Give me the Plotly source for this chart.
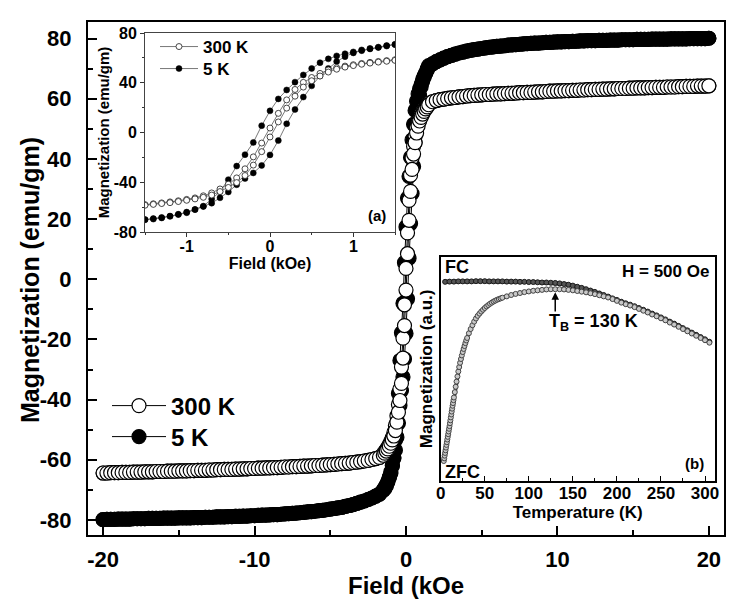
import plotly.graph_objects as go

# ---------------- data: main M-H loops ----------------
H_HIGH_POS = [1.75, 2.0, 2.25, 2.5, 2.75, 3.0, 3.25, 3.5, 3.75, 4.0,
              4.25, 4.5, 4.75, 5.0, 5.25, 5.5, 5.75, 6.0, 6.25, 6.5,
              6.75, 7.0, 7.25, 7.5, 7.75, 8.0, 8.25, 8.5, 8.75, 9.0,
              9.25, 9.5, 9.75, 10.0, 10.25, 10.5, 10.75, 11.0, 11.25, 11.5,
              11.75, 12.0, 12.25, 12.5, 12.75, 13.0, 13.25, 13.5, 13.75, 14.0,
              14.25, 14.5, 14.75, 15.0, 15.25, 15.5, 15.75, 16.0, 16.25, 16.5,
              16.75, 17.0, 17.25, 17.5, 17.75, 18.0, 18.25, 18.5, 18.75, 19.0,
              19.25, 19.5, 19.75, 20.0]
H_HIGH_NEG = [-1.75, -2.0, -2.25, -2.5, -2.75, -3.0, -3.25, -3.5, -3.75, -4.0,
              -4.25, -4.5, -4.75, -5.0, -5.25, -5.5, -5.75, -6.0, -6.25, -6.5,
              -6.75, -7.0, -7.25, -7.5, -7.75, -8.0, -8.25, -8.5, -8.75, -9.0,
              -9.25, -9.5, -9.75, -10.0, -10.25, -10.5, -10.75, -11.0, -11.25, -11.5,
              -11.75, -12.0, -12.25, -12.5, -12.75, -13.0, -13.25, -13.5, -13.75, -14.0,
              -14.25, -14.5, -14.75, -15.0, -15.25, -15.5, -15.75, -16.0, -16.25, -16.5,
              -16.75, -17.0, -17.25, -17.5, -17.75, -18.0, -18.25, -18.5, -18.75, -19.0,
              -19.25, -19.5, -19.75, -20.0]
H_LOW = [-1.5, -1.4, -1.3, -1.2, -1.1, -1.0, -0.9, -0.8, -0.7, -0.6, -0.5,
         -0.4, -0.3, -0.2, -0.1, 0.0, 0.1, 0.2, 0.3, 0.4, 0.5,
         0.6, 0.7, 0.8, 0.9, 1.0, 1.1, 1.2, 1.3, 1.4, 1.5]

M300_HIGH_POS = [59.0, 59.4, 59.7, 59.9, 60.1, 60.3, 60.4, 60.6, 60.7, 60.9,
                 61.0, 61.1, 61.2, 61.3, 61.4, 61.4, 61.5, 61.6, 61.6, 61.7,
                 61.8, 61.8, 61.9, 62.0, 62.0, 62.1, 62.1, 62.2, 62.3, 62.3,
                 62.4, 62.5, 62.5, 62.6, 62.6, 62.7, 62.7, 62.8, 62.8, 62.9,
                 62.9, 63.0, 63.0, 63.1, 63.1, 63.2, 63.2, 63.3, 63.3, 63.4,
                 63.4, 63.4, 63.5, 63.5, 63.6, 63.6, 63.6, 63.7, 63.7, 63.8,
                 63.8, 63.8, 63.9, 63.9, 63.9, 64.0, 64.0, 64.1, 64.1, 64.1,
                 64.2, 64.2, 64.2, 64.3]
M300_HIGH_NEG = [-59.2, -59.6, -59.9, -60.2, -60.4, -60.6, -60.8, -60.9, -61.1, -61.2,
                 -61.3, -61.4, -61.5, -61.6, -61.7, -61.8, -61.9, -61.9, -62.0, -62.1,
                 -62.1, -62.2, -62.3, -62.3, -62.4, -62.4, -62.5, -62.6, -62.6, -62.7,
                 -62.7, -62.8, -62.8, -62.9, -62.9, -63.0, -63.0, -63.1, -63.1, -63.2,
                 -63.2, -63.2, -63.3, -63.3, -63.4, -63.4, -63.5, -63.5, -63.5, -63.6,
                 -63.6, -63.7, -63.7, -63.7, -63.8, -63.8, -63.8, -63.9, -63.9, -63.9,
                 -64.0, -64.0, -64.0, -64.1, -64.1, -64.1, -64.2, -64.2, -64.2, -64.3,
                 -64.3, -64.3, -64.4, -64.4]
M300_LOW_DESC = [-58.0, -57.3, -56.6, -55.8, -54.9, -53.8, -52.6, -50.9, -48.6, -45.4, -41.6,
                 -36.5, -29.2, -19.6, -8.5, 3.6, 15.4, 26.2, 34.6, 40.3, 44.2,
                 47.5, 50.3, 52.1, 53.4, 54.5, 55.5, 56.4, 57.1, 57.8, 58.5]
M300_LOW_ASC = [-58.5, -57.8, -57.1, -56.4, -55.5, -54.5, -53.4, -52.1, -50.3, -47.5, -44.2,
                -40.3, -34.6, -26.2, -15.4, -3.6, 8.5, 19.6, 29.2, 36.5, 41.6,
                45.4, 48.6, 50.9, 52.6, 53.8, 54.9, 55.8, 56.6, 57.3, 58.0]

M5_HIGH_POS = [71.6, 72.3, 72.9, 73.5, 74.0, 74.4, 74.8, 75.2, 75.5, 75.8,
               76.1, 76.3, 76.5, 76.7, 76.9, 77.1, 77.2, 77.4, 77.5, 77.6,
               77.8, 77.9, 78.0, 78.1, 78.2, 78.3, 78.4, 78.5, 78.5, 78.6,
               78.7, 78.7, 78.8, 78.9, 78.9, 79.0, 79.0, 79.1, 79.1, 79.2,
               79.2, 79.3, 79.3, 79.3, 79.4, 79.4, 79.4, 79.5, 79.5, 79.5,
               79.6, 79.6, 79.6, 79.6, 79.7, 79.7, 79.7, 79.7, 79.8, 79.8,
               79.8, 79.8, 79.8, 79.9, 79.9, 79.9, 79.9, 79.9, 80.0, 80.0,
               80.0, 80.0, 80.0, 80.1]
M5_HIGH_NEG = [-71.4, -72.1, -72.7, -73.2, -73.7, -74.1, -74.5, -74.9, -75.2, -75.5,
               -75.8, -76.0, -76.2, -76.4, -76.6, -76.8, -76.9, -77.1, -77.2, -77.3,
               -77.5, -77.6, -77.7, -77.8, -77.9, -78.0, -78.1, -78.2, -78.2, -78.3,
               -78.4, -78.4, -78.5, -78.6, -78.6, -78.7, -78.7, -78.8, -78.8, -78.9,
               -78.9, -79.0, -79.0, -79.0, -79.1, -79.1, -79.1, -79.2, -79.2, -79.2,
               -79.3, -79.3, -79.3, -79.3, -79.4, -79.4, -79.4, -79.4, -79.5, -79.5,
               -79.5, -79.5, -79.6, -79.6, -79.6, -79.6, -79.7, -79.7, -79.7, -79.7,
               -79.8, -79.8, -79.8, -79.9]
M5_LOW_DESC = [-70.2, -69.2, -68.3, -67.2, -65.9, -64.0, -61.9, -59.2, -53.5, -47.5, -37.9,
               -27.0, -17.8, -8.0, 5.5, 17.4, 27.0, 34.2, 40.5, 46.3, 51.5,
               56.1, 59.2, 61.6, 63.3, 64.8, 66.4, 67.6, 68.6, 69.9, 71.0]
M5_LOW_ASC = [-70.0, -69.6, -68.7, -67.4, -65.8, -64.5, -62.0, -59.5, -56.8, -52.5, -47.8,
              -42.0, -37.0, -32.5, -26.5, -18.0, -6.5, 7.0, 18.5, 28.5, 37.5,
              45.5, 51.5, 57.0, 61.0, 64.0, 65.8, 67.2, 68.4, 69.5, 70.6]

# ---------------- data: ZFC / FC (inset b) ----------------
FC_T = [5, 10, 15, 20, 25, 30, 35, 40, 45, 50, 55, 60, 65, 70, 75, 80, 85, 90, 95, 100,
        105, 110, 115, 120, 125, 130, 135, 140, 145, 150, 155, 160, 165, 170, 175, 180,
        185, 190, 195, 200, 205, 210, 215, 220, 225, 230, 235, 240, 245, 250, 255, 260,
        265, 270, 275, 280, 285, 290, 295, 300, 305]
FC_M = [0.889, 0.890, 0.890, 0.891, 0.891, 0.891, 0.891, 0.892, 0.892, 0.892,
        0.891, 0.891, 0.891, 0.891, 0.890, 0.890, 0.890, 0.889, 0.889, 0.888,
        0.888, 0.887, 0.886, 0.886, 0.885, 0.884, 0.882, 0.879, 0.876, 0.872,
        0.867, 0.862, 0.856, 0.850, 0.844, 0.837, 0.830, 0.823, 0.815, 0.808,
        0.800, 0.793, 0.787, 0.780, 0.772, 0.764, 0.756, 0.747, 0.739, 0.730,
        0.721, 0.711, 0.702, 0.692, 0.682, 0.672, 0.662, 0.652, 0.642, 0.632,
        0.621]
ZFC_T = [3.5, 4, 4.5, 5, 5.5, 6, 6.5, 7, 7.5, 8, 8.5, 9, 9.5, 10, 10.5, 11, 11.5, 12,
         12.5, 13, 13.5, 14, 14.5, 15,
         16, 17, 18, 19, 20, 21, 22, 23, 24, 25, 26, 27, 28, 29, 30,
         32, 34, 36, 38, 40, 42, 44, 46, 48, 50, 52, 54, 56, 58, 60, 62, 64, 66, 68, 70,
         75, 80, 85, 90, 95, 100, 105, 110, 115, 120, 125, 130, 135, 140, 145, 150, 155,
         160, 165, 170, 175, 180, 185, 190, 195, 200, 205, 210, 215, 220, 225, 230, 235,
         240, 245, 250, 255, 260, 265, 270, 275, 280, 285, 290, 295, 300, 305]
ZFC_M = [0.088, 0.100, 0.112, 0.124, 0.136, 0.148, 0.160, 0.172, 0.184, 0.196, 0.208, 0.220,
         0.232, 0.244, 0.257, 0.270, 0.283, 0.296, 0.309, 0.322, 0.335, 0.347, 0.360, 0.372,
         0.396, 0.420, 0.443, 0.466, 0.488, 0.508, 0.527, 0.544, 0.560, 0.575, 0.589, 0.602,
         0.615, 0.627, 0.638,
         0.659, 0.678, 0.695, 0.711, 0.725, 0.737, 0.747, 0.756, 0.764, 0.772, 0.779, 0.785,
         0.791, 0.796, 0.801, 0.805, 0.809, 0.812, 0.815, 0.818,
         0.824, 0.830, 0.835, 0.839, 0.843, 0.846, 0.849, 0.851, 0.853, 0.855, 0.856, 0.856,
         0.856, 0.855, 0.853, 0.851, 0.848, 0.845, 0.842, 0.838, 0.834, 0.829, 0.824, 0.819,
         0.812, 0.804, 0.796, 0.789, 0.783, 0.776, 0.768, 0.760, 0.752, 0.743, 0.735, 0.726,
         0.717, 0.707, 0.698, 0.688, 0.678, 0.668, 0.658, 0.648, 0.638, 0.628, 0.617]

MAIN_XTICKS = [-20, -10, 0, 10, 20]
MAIN_XLABELS = ["-20", "-10", "0", "10", "20"]
MAIN_YTICKS = [-80, -60, -40, -20, 0, 20, 40, 60, 80]
MAIN_YLABELS = ["-80", "-60", "-40", "-20", "0", "20", "40", "60", "80"]
INSET_A_XTICKS = [-1, 0, 1]
INSET_A_XLABELS = ["-1", "0", "1"]
INSET_A_YTICKS = [-80, -40, 0, 40, 80]
INSET_A_YLABELS = ["-80", "-40", "0", "40", "80"]
INSET_B_XTICKS = [0, 50, 100, 150, 200, 250, 300]
INSET_B_XLABELS = ["0", "50", "100", "150", "200", "250", "300"]


def loop(h_pos, h_neg, h_low, m_pos, m_neg, m_low_desc, m_low_asc):
    """Full hysteresis loop: +20 -> -20 (descending), then -20 -> +20 (ascending)."""
    hx = list(reversed(h_pos)) + list(reversed(h_low)) + list(h_neg)
    my = list(reversed(m_pos)) + list(reversed(m_low_desc)) + list(m_neg)
    hx += list(reversed(h_neg)) + list(h_low) + list(h_pos)
    my += list(reversed(m_neg)) + list(m_low_asc) + list(m_pos)
    return hx, my


H300, M300 = loop(H_HIGH_POS, H_HIGH_NEG, H_LOW, M300_HIGH_POS, M300_HIGH_NEG,
                  M300_LOW_DESC, M300_LOW_ASC)
H5, M5 = loop(H_HIGH_POS, H_HIGH_NEG, H_LOW, M5_HIGH_POS, M5_HIGH_NEG,
              M5_LOW_DESC, M5_LOW_ASC)

FONT = "Liberation Sans, Arial, Helvetica, sans-serif"

# ---------------- geometry ----------------
# The page body has an 8px margin, so the figure is 8px smaller than the window
OFF = 8
W, HGT = 740 - OFF, 606 - OFF
L, R, T, B = 88 - OFF, 16, 22 - OFF, 71
PW, PH = W - L - R, HGT - T - B


def px(x):
    """page pixel x -> paper fraction"""
    return (x - OFF - L) / PW


def py(y):
    """page pixel y -> paper fraction"""
    return (HGT - B - (y - OFF)) / PH


fig = go.Figure()

# main plot
fig.add_trace(go.Scatter(
    x=H5, y=M5, mode="lines+markers", name="5 K", legend="legend3",
    line=dict(color="black", width=1),
    marker=dict(symbol="circle", size=14, color="black", line=dict(color="black", width=1.2)),
    xaxis="x", yaxis="y"))
fig.add_trace(go.Scatter(
    x=H300, y=M300, mode="lines+markers", name="300 K", legend="legend",
    line=dict(color="black", width=1),
    marker=dict(symbol="circle", size=14, color="white", line=dict(color="black", width=1.2)),
    xaxis="x", yaxis="y"))

# inset (a)
fig.add_trace(go.Scatter(
    x=H5, y=M5, mode="lines+markers", name="5 K", legend="legend4",
    line=dict(color="#555555", width=0.8),
    marker=dict(symbol="circle", size=6, color="black", line=dict(color="black", width=0.5)),
    xaxis="x2", yaxis="y2"))
fig.add_trace(go.Scatter(
    x=H300, y=M300, mode="lines+markers", name="300 K", legend="legend2",
    line=dict(color="#555555", width=0.8),
    marker=dict(symbol="circle", size=6, color="white", line=dict(color="#333333", width=0.9)),
    xaxis="x2", yaxis="y2"))

# inset (b)
fig.add_trace(go.Scatter(
    x=FC_T, y=FC_M, mode="lines+markers", showlegend=False,
    line=dict(color="#222222", width=4),
    marker=dict(symbol="circle", size=5, color="#555555", line=dict(color="#1a1a1a", width=1)),
    xaxis="x3", yaxis="y3"))
fig.add_trace(go.Scatter(
    x=ZFC_T, y=ZFC_M, mode="lines+markers", showlegend=False,
    line=dict(color="#333333", width=3),
    marker=dict(symbol="circle", size=5, color="#c8c8c8", line=dict(color="#444444", width=1)),
    xaxis="x3", yaxis="y3"))

bold = dict(family=FONT, color="black", weight="bold")

fig.update_layout(
    width=W, height=HGT,
    margin=dict(l=L, r=R, t=T, b=B, autoexpand=False),
    paper_bgcolor="white", plot_bgcolor="white",
    font=dict(family=FONT, color="black"),
    xaxis=dict(
        domain=[0, 1], anchor="y", range=[-21, 21], automargin=False,
        tickvals=MAIN_XTICKS, ticktext=MAIN_XLABELS,
        ticks="inside", ticklen=9, tickwidth=2, tickcolor="black",
        minor=dict(ticks="inside", ticklen=5, tickwidth=2, dtick=5, tick0=0, tickcolor="black"),
        showline=True, linewidth=2, linecolor="black", mirror=True,
        showgrid=False, zeroline=False,
        tickfont=dict(size=22, **bold), ticklabelstandoff=4,
        title=dict(text="Field (kOe", font=dict(size=24, **bold), standoff=2)),
    yaxis=dict(
        domain=[0, 1], anchor="x", range=[-85, 85.5], automargin=False,
        tickvals=MAIN_YTICKS, ticktext=MAIN_YLABELS,
        ticks="inside", ticklen=9, tickwidth=2, tickcolor="black",
        minor=dict(ticks="inside", ticklen=5, tickwidth=2, dtick=10, tick0=0, tickcolor="black"),
        showline=True, linewidth=2, linecolor="black", mirror=True,
        showgrid=False, zeroline=False,
        tickfont=dict(size=22, **bold), ticklabelstandoff=10),
    xaxis2=dict(
        domain=[px(145), px(395)], anchor="y2", range=[-1.5, 1.5], automargin=False,
        tickvals=INSET_A_XTICKS, ticktext=INSET_A_XLABELS,
        ticks="outside", ticklen=4, tickwidth=1, tickcolor="#333",
        minor=dict(ticks="outside", ticklen=2, dtick=0.5, tick0=0, tickcolor="#333"),
        showline=True, linewidth=1, linecolor="#444", mirror=True,
        showgrid=False, zeroline=False,
        tickfont=dict(size=16, **bold), ticklabelstandoff=-4,
        title=dict(text="Field (kOe)", font=dict(size=16, **bold), standoff=0)),
    yaxis2=dict(
        domain=[py(232), py(33)], anchor="x2", range=[-80, 80], automargin=False,
        tickvals=INSET_A_YTICKS, ticktext=INSET_A_YLABELS,
        ticks="outside", ticklen=4, tickwidth=1, tickcolor="#333",
        minor=dict(ticks="outside", ticklen=2, dtick=20, tick0=0, tickcolor="#333"),
        showline=True, linewidth=1, linecolor="#444", mirror=True,
        showgrid=False, zeroline=False,
        tickfont=dict(size=16, **bold),
        title=dict(text="Magnetization (emu/gm)", font=dict(size=15, **bold), standoff=0)),
    xaxis3=dict(
        domain=[px(440.7), px(714.7)], anchor="y3", range=[0, 311], automargin=False,
        tickvals=INSET_B_XTICKS, ticktext=INSET_B_XLABELS,
        ticks="inside", ticklen=5, tickwidth=1, tickcolor="black",
        minor=dict(ticks="inside", ticklen=3, dtick=25, tick0=0, tickcolor="black"),
        showline=True, linewidth=1.5, linecolor="black", mirror=True,
        showgrid=False, zeroline=False,
        tickfont=dict(size=17, **bold), ticklabelstandoff=-4,
        title=dict(text="Temperature (K)", font=dict(size=17, **bold), standoff=0)),
    yaxis3=dict(
        domain=[py(480.7), py(257)], anchor="x3", range=[0, 1], automargin=False,
        showticklabels=False, ticks="",
        showline=True, linewidth=1.5, linecolor="black", mirror=True,
        showgrid=False, zeroline=False,
        title=dict(text="Magnetization (a.u.)", font=dict(size=17, **bold), standoff=2)),
    legend=dict(
        x=px(107), y=py(406), xanchor="left", yanchor="middle",
        bgcolor="rgba(0,0,0,0)", font=dict(size=24, **bold), itemwidth=54),
    legend3=dict(
        x=px(107), y=py(437), xanchor="left", yanchor="middle",
        bgcolor="rgba(0,0,0,0)", font=dict(size=24, **bold), itemwidth=54),
    legend2=dict(
        x=px(155), y=py(47), xanchor="left", yanchor="middle",
        bgcolor="rgba(0,0,0,0)", font=dict(size=17, **bold), itemwidth=38),
    legend4=dict(
        x=px(155), y=py(69), xanchor="left", yanchor="middle",
        bgcolor="rgba(0,0,0,0)", font=dict(size=17, **bold), itemwidth=38),
)

annots = [
    dict(text="Magnetization (emu/gm)", x=px(30), y=py(280), xanchor="center",
         yanchor="middle", size=25, angle=-90),
    dict(text="(a)", x=px(377), y=py(215.5), xanchor="center", yanchor="middle", size=15),
    dict(text="FC", x=px(443), y=py(266.7), xanchor="left", yanchor="middle", size=18),
    dict(text="H = 500 Oe", x=px(711), y=py(271.7), xanchor="right", yanchor="middle", size=17),
    dict(text="T<sub>B</sub> = 130 K", x=px(547), y=py(322), xanchor="left", yanchor="middle", size=18),
    dict(text="ZFC", x=px(443), y=py(471.7), xanchor="left", yanchor="middle", size=18),
    dict(text="(b)", x=px(694), y=py(463), xanchor="center", yanchor="middle", size=15),
]
for a in annots:
    fig.add_annotation(text=a["text"], x=a["x"], y=a["y"], xref="paper", yref="paper",
                       xanchor=a["xanchor"], yanchor=a["yanchor"], showarrow=False,
                       textangle=a.get("angle", 0),
                       font=dict(size=a["size"], **bold))

# blocking-temperature arrow
fig.add_annotation(x=130, y=0.842, xref="x3", yref="y3", ax=130, ay=0.75,
                   axref="x3", ayref="y3", text="", showarrow=True,
                   arrowhead=2, arrowsize=1, arrowwidth=1.5, arrowcolor="black")

fig.write_html("out.html")
